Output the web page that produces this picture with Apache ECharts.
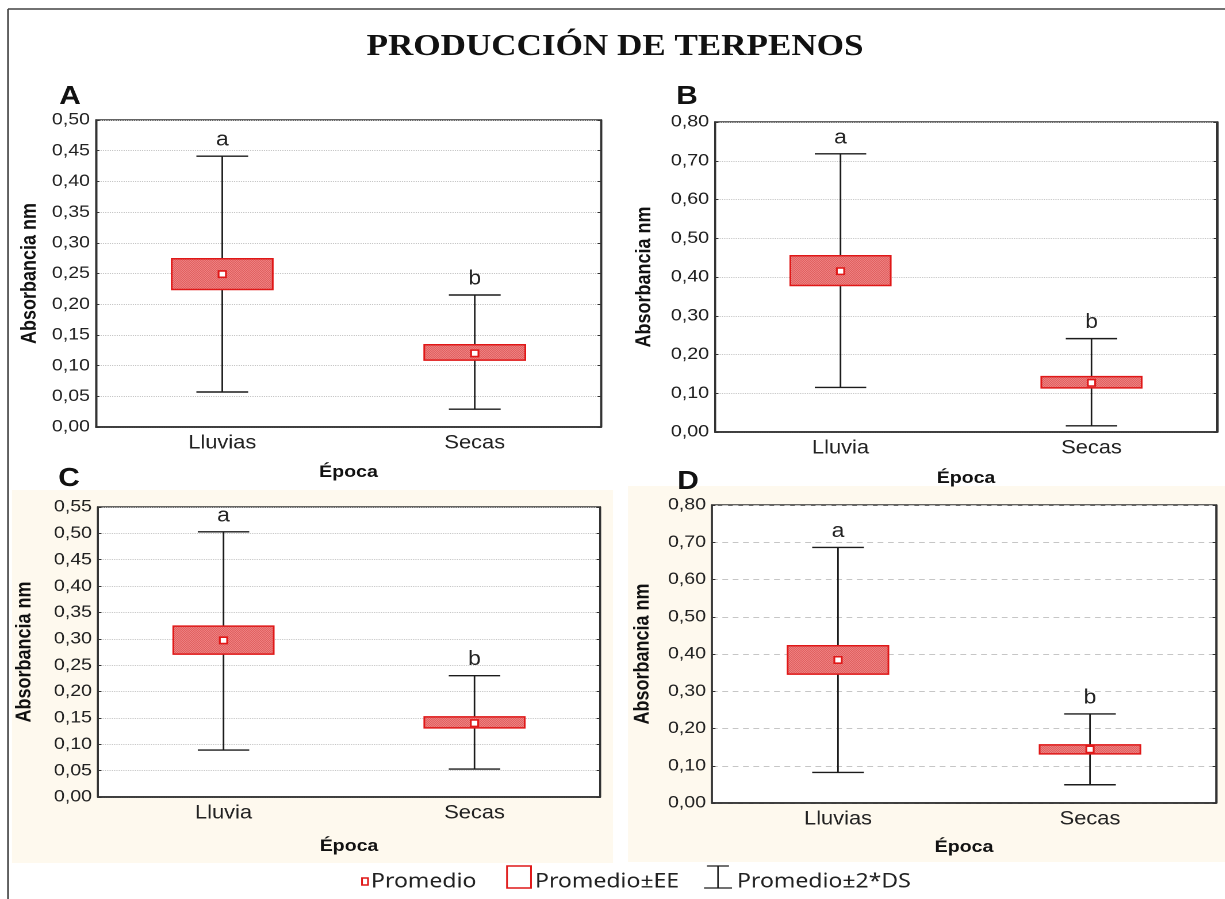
<!DOCTYPE html>
<html>
<head>
<meta charset="utf-8">
<script src="https://cdn.jsdelivr.net/npm/echarts@6/dist/echarts.min.js"></script>
<style>
  html, body { margin: 0; padding: 0; background: #fff; overflow: hidden; }
  #wrap { width: 1225px; height: 899px; overflow: hidden; }
  #chart { height: 899px; transform-origin: 0 0; }
</style>
</head>
<body>
<div id="wrap"><div id="chart"></div></div>
<script>
// ---- data -------------------------------------------------------------
const title = 'PRODUCCIÓN DE TERPENOS';
const panelLetters = ['A', 'B', 'C', 'D'];
const categoriesA = ['Lluvias', 'Secas'];
const categoriesB = ['Lluvia', 'Secas'];
const categoriesC = ['Lluvia', 'Secas'];
const categoriesD = ['Lluvias', 'Secas'];
// each group: [mean-2*DS, mean-EE, mean, mean+EE, mean+2*DS]
const lluviasA = [0.057, 0.224, 0.249, 0.274, 0.441];
const secasA   = [0.029, 0.109, 0.120, 0.134, 0.215];
const lluviaB  = [0.115, 0.378, 0.415, 0.455, 0.718];
const secasB   = [0.016, 0.114, 0.127, 0.143, 0.241];
const lluviaC  = [0.089, 0.271, 0.297, 0.324, 0.503];
const secasC   = [0.053, 0.131, 0.140, 0.152, 0.230];
const lluviasD = [0.082, 0.346, 0.384, 0.422, 0.686];
const secasD   = [0.049, 0.132, 0.144, 0.156, 0.239];
const groupLetters = ['a', 'b'];
// y axis: [min, max, interval]
const yRangeA = [0, 0.50, 0.05];
const yRangeB = [0, 0.80, 0.10];
const yRangeC = [0, 0.55, 0.05];
const yRangeD = [0, 0.80, 0.10];
const yAxisName = 'Absorbancia nm';
const xAxisName = 'Época';
const legendLabels = ['Promedio', 'Promedio±EE', 'Promedio±2*DS'];

// ---- layout -----------------------------------------------------------
// the figure is drawn narrow and widened horizontally by S
const S = 1.15;
const W = 1225 / S;
const px = v => v / S;
document.getElementById('chart').style.width = W + 'px';
document.getElementById('chart').style.transform = 'scaleX(' + S + ')';

const RED = '#e01818';
const INK = '#1c1c1c';
const SANS = '"Liberation Sans", Arial, sans-serif';

const panels = [
  { cats: categoriesA, groups: [lluviasA, secasA], range: yRangeA, box: [96, 601, 120, 427], yGap: 56, xGap: 37, grid: 'dotted', tag: [70, 97] },
  { cats: categoriesB, groups: [lluviaB, secasB], range: yRangeB, box: [715, 1217, 122, 432], yGap: 60, xGap: 38, grid: 'dotted', tag: [687, 97] },
  { cats: categoriesC, groups: [lluviaC, secasC], range: yRangeC, box: [98, 600, 507, 797], yGap: 63, xGap: 41, grid: 'dotted', tag: [69, 479] },
  { cats: categoriesD, groups: [lluviasD, secasD], range: yRangeD, box: [712, 1216, 505, 803], yGap: 59, xGap: 36, grid: [5, 4], tag: [688, 482] }
];

// hatched fill for the mean±EE boxes
const hatch = (() => {
  const c = document.createElement('canvas');
  c.width = 2; c.height = 2;
  const g = c.getContext('2d');
  g.fillStyle = '#f6bcbc'; g.fillRect(0, 0, 2, 2);
  g.fillStyle = '#d92626'; g.fillRect(0, 0, 1, 1); g.fillRect(1, 1, 1, 1);
  return c;
})();

function renderGroup(params, api) {
  const cat = api.value(0);
  const x = api.coord([cat, api.value(1)])[0];
  const yLo = api.coord([cat, api.value(1)])[1];
  const yBoxLo = api.coord([cat, api.value(2)])[1];
  const yMean = api.coord([cat, api.value(3)])[1];
  const yBoxHi = api.coord([cat, api.value(4)])[1];
  const yHi = api.coord([cat, api.value(5)])[1];
  const band = api.size([1, 0])[0];
  const bw = band * 0.40, cw = band * 0.205;
  const line = { stroke: INK, lineWidth: 1.4 };
  return {
    type: 'group',
    children: [
      { type: 'line', shape: { x1: x, y1: yLo, x2: x, y2: yHi }, style: line },
      { type: 'line', shape: { x1: x - cw / 2, y1: yHi, x2: x + cw / 2, y2: yHi }, style: line },
      { type: 'line', shape: { x1: x - cw / 2, y1: yLo, x2: x + cw / 2, y2: yLo }, style: line },
      { type: 'rect', shape: { x: x - bw / 2, y: yBoxHi, width: bw, height: yBoxLo - yBoxHi },
        style: { fill: { image: hatch, repeat: 'repeat' }, stroke: RED, lineWidth: 1.5 } },
      { type: 'rect', shape: { x: x - 3.2, y: yMean - 3.2, width: 6.4, height: 6.4 },
        style: { fill: '#fff', stroke: RED, lineWidth: 1.6 } },
      { type: 'text', x: x, y: yHi - 6,
        style: { text: groupLetters[params.dataIndex], fill: '#222', font: '20px ' + SANS, align: 'center', verticalAlign: 'bottom' } }
    ]
  };
}

const fmt = v => v.toFixed(2).replace('.', ',');

const grids = [], xAxes = [], yAxes = [], series = [];
panels.forEach((p, i) => {
  const [l, r, t, b] = p.box;
  grids.push({
    left: px(l), width: px(r - l), top: t, height: b - t,
    show: true, backgroundColor: '#fff', borderColor: '#333', borderWidth: 1.5
  });
  xAxes.push({
    type: 'category', gridIndex: i, data: p.cats, position: 'bottom',
    axisLine: { lineStyle: { color: '#333', width: 1.5 } },
    axisTick: { alignWithLabel: true, length: 4, lineStyle: { color: '#333' } },
    axisLabel: { fontFamily: SANS, fontSize: 19, color: '#222', margin: 7 },
    name: xAxisName, nameLocation: 'middle', nameGap: p.xGap,
    nameTextStyle: { fontFamily: SANS, fontSize: 17, fontWeight: 'bold', color: '#111' }
  });
  xAxes.push({
    type: 'category', gridIndex: i, data: p.cats, position: 'top',
    axisLine: { lineStyle: { color: '#333', width: 1.5 } },
    axisTick: { alignWithLabel: true, inside: true, length: 3, lineStyle: { color: '#333' } },
    axisLabel: { show: false }
  });
  const [mn, mx, step] = p.range;
  yAxes.push({
    type: 'value', gridIndex: i, min: mn, max: mx, interval: step, position: 'left',
    axisLine: { show: true, lineStyle: { color: '#333', width: 1.5 } },
    axisTick: { show: true, inside: true, length: 3, lineStyle: { color: '#333' } },
    axisLabel: { fontFamily: SANS, fontSize: 17, color: '#222', margin: px(6), formatter: fmt },
    splitLine: { show: true, lineStyle: { color: '#c6c6c6', width: 1, type: p.grid } },
    name: yAxisName, nameLocation: 'middle', nameGap: px(p.yGap),
    nameTextStyle: { fontFamily: SANS, fontSize: 18, fontWeight: 'bold', color: '#111' }
  });
  yAxes.push({
    type: 'value', gridIndex: i, min: mn, max: mx, interval: step, position: 'right',
    axisLine: { show: true, lineStyle: { color: '#333', width: 1.5 } },
    axisTick: { show: true, inside: true, length: 3, lineStyle: { color: '#333' } },
    axisLabel: { show: false }, splitLine: { show: false }
  });
  series.push({
    type: 'custom', xAxisIndex: 2 * i, yAxisIndex: 2 * i,
    renderItem: renderGroup,
    encode: { x: 0, y: [1, 2, 3, 4, 5] },
    data: p.groups.map((g, k) => [k].concat(g)),
    z: 5
  });
});

const graphics = [
  // cream panels behind C and D
  { type: 'rect', z: -10, shape: { x: px(12), y: 490, width: px(613 - 12), height: 373 }, style: { fill: '#fef9ee' } },
  { type: 'rect', z: -10, shape: { x: px(628), y: 486, width: px(1225 - 628), height: 376 }, style: { fill: '#fef9ee' } },
  // figure frame
  { type: 'line', z: -5, shape: { x1: px(8), y1: 9, x2: px(1225), y2: 9 }, style: { stroke: '#444', lineWidth: 1.5 } },
  { type: 'line', z: -5, shape: { x1: px(8), y1: 9, x2: px(8), y2: 899 }, style: { stroke: '#444', lineWidth: 1.5 } },
  { type: 'text', x: px(615), y: 47, style: { text: title, font: 'bold 30.5px "Liberation Serif", "Times New Roman", serif', fill: '#111', align: 'center', verticalAlign: 'middle' } }
];
panels.forEach((p, i) => {
  graphics.push({ type: 'text', x: px(p.tag[0]), y: p.tag[1], style: { text: panelLetters[i], font: 'bold 26px ' + SANS, fill: '#111', align: 'center', verticalAlign: 'middle' } });
});
// legend
const LF = '20px "Noto Sans", "Open Sans", sans-serif';
graphics.push(
  { type: 'rect', shape: { x: px(362), y: 878, width: px(6), height: 7 }, style: { fill: '#fff', stroke: RED, lineWidth: 1.5 } },
  { type: 'text', x: px(371), y: 882, style: { text: legendLabels[0], font: LF, fill: '#222', verticalAlign: 'middle' } },
  { type: 'rect', shape: { x: px(507), y: 866, width: px(24), height: 22 }, style: { fill: '#fff', stroke: RED, lineWidth: 1.5 } },
  { type: 'text', x: px(535), y: 882, style: { text: legendLabels[1], font: LF, fill: '#222', verticalAlign: 'middle' } },
  { type: 'line', shape: { x1: px(707), y1: 866, x2: px(729), y2: 866 }, style: { stroke: INK, lineWidth: 1.3 } },
  { type: 'line', shape: { x1: px(718), y1: 866, x2: px(718), y2: 888 }, style: { stroke: INK, lineWidth: 1.3 } },
  { type: 'line', shape: { x1: px(704), y1: 888, x2: px(732), y2: 888 }, style: { stroke: INK, lineWidth: 1.3 } },
  { type: 'text', x: px(737), y: 882, style: { text: legendLabels[2], font: LF, fill: '#222', verticalAlign: 'middle' } }
);

const chart = echarts.init(document.getElementById('chart'), null, { renderer: 'canvas', devicePixelRatio: 2 });
chart.setOption({
  animation: false,
  backgroundColor: '#fff',
  grid: grids,
  xAxis: xAxes,
  yAxis: yAxes,
  series: series,
  graphic: { elements: graphics }
});
</script>
</body>
</html>
